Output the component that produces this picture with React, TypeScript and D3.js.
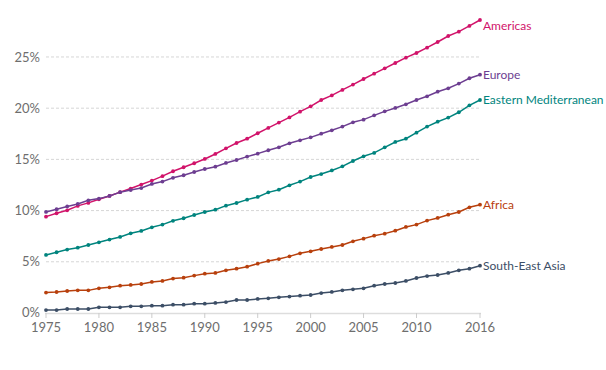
import React from "react";
import * as d3 from "d3";

const years: number[] = d3.range(1975, 2017);

const americas = [9.41, 9.74, 10.03, 10.46, 10.75, 11.1, 11.43, 11.8, 12.15, 12.54, 12.93, 13.36, 13.84, 14.23, 14.62, 15.04, 15.53, 16.08, 16.6, 17.02, 17.55, 18.07, 18.59, 19.1, 19.66, 20.18, 20.8, 21.25, 21.78, 22.3, 22.85, 23.37, 23.89, 24.41, 24.93, 25.39, 25.91, 26.46, 27.05, 27.47, 28.03, 28.61];
const europe = [9.87, 10.13, 10.4, 10.65, 11.0, 11.17, 11.43, 11.8, 12.0, 12.2, 12.6, 12.83, 13.2, 13.45, 13.77, 14.06, 14.29, 14.65, 14.94, 15.27, 15.56, 15.89, 16.18, 16.57, 16.86, 17.15, 17.51, 17.84, 18.2, 18.62, 18.88, 19.3, 19.69, 20.02, 20.38, 20.8, 21.16, 21.61, 21.94, 22.4, 22.92, 23.27];
const easternMed = [5.67, 5.93, 6.19, 6.38, 6.64, 6.9, 7.17, 7.43, 7.78, 8.01, 8.37, 8.63, 9.0, 9.25, 9.57, 9.86, 10.09, 10.48, 10.74, 11.07, 11.33, 11.78, 12.04, 12.47, 12.83, 13.28, 13.57, 13.92, 14.32, 14.84, 15.3, 15.63, 16.18, 16.7, 17.02, 17.61, 18.2, 18.68, 19.08, 19.6, 20.28, 20.8];
const africa = [1.99, 2.05, 2.15, 2.21, 2.21, 2.41, 2.51, 2.67, 2.74, 2.83, 3.03, 3.13, 3.36, 3.45, 3.65, 3.84, 3.91, 4.17, 4.33, 4.52, 4.82, 5.08, 5.27, 5.53, 5.83, 6.02, 6.25, 6.45, 6.64, 7.0, 7.26, 7.55, 7.75, 8.04, 8.4, 8.63, 9.02, 9.28, 9.6, 9.86, 10.32, 10.58];
const seAsia = [0.29, 0.29, 0.39, 0.39, 0.39, 0.55, 0.55, 0.55, 0.65, 0.65, 0.72, 0.72, 0.81, 0.81, 0.91, 0.91, 0.98, 1.07, 1.27, 1.27, 1.37, 1.43, 1.53, 1.6, 1.69, 1.76, 1.95, 2.06, 2.21, 2.31, 2.41, 2.67, 2.83, 2.93, 3.13, 3.42, 3.61, 3.71, 3.91, 4.17, 4.33, 4.62];

const seriesNames = ["Americas", "Europe", "Eastern Mediterranean", "Africa", "South-East Asia"];
const seriesValues = [americas, europe, easternMed, africa, seAsia];
const seriesColors = ["#d1136a", "#6d3e91", "#00847e", "#b8400d", "#3c4e66"];

const xTicks = [1975, 1980, 1985, 1990, 1995, 2000, 2005, 2010, 2016];
const yTicks = [0, 5, 10, 15, 20, 25];

const W = 606;
const H = 370;
const left = 46;
const right = 480;
const top = 20;
const bottom = 313;

export default function App() {
  const x = d3.scaleLinear().domain([years[0], years[years.length - 1]]).range([left, right]);
  const yMax = d3.max(seriesValues.flat()) as number;
  const y = d3.scaleLinear().domain([0, yMax]).range([bottom, top]);
  const line = d3
    .line<number>()
    .x((_, i) => x(years[i]))
    .y((d) => y(d));
  const font = "Lato, 'Open Sans', sans-serif";

  return (
    <svg
      width={W}
      height={H}
      style={{ position: "absolute", left: 0, top: 0, background: "#fff" }}
      fontFamily={font}
    >
      {yTicks.map((t) => (
        <g key={t}>
          {t > 0 && (
            <line
              x1={left}
              x2={right}
              y1={y(t)}
              y2={y(t)}
              stroke="#d6d6d6"
              strokeWidth={1}
              strokeDasharray="3,2"
            />
          )}
          <text x={40} y={y(t) - (t === 0 ? 1 : 0)} dy="0.35em" textAnchor="end" fontSize={13} fill="#6e6e6e">
            {t}%
          </text>
        </g>
      ))}
      <line x1={left - 1} x2={right + 1} y1={bottom + 0.5} y2={bottom + 0.5} stroke="#ddd" strokeWidth={1.5} />
      {xTicks.map((t) => (
        <g key={t}>
          <line x1={x(t)} x2={x(t)} y1={bottom} y2={bottom + 5} stroke="#ccc" strokeWidth={1} />
          <text x={x(t)} y={bottom + 14} dy="0.35em" textAnchor="middle" fontSize={13} fill="#6e6e6e">
            {t}
          </text>
        </g>
      ))}
      {seriesValues.map((vals, si) => (
        <g key={seriesNames[si]}>
          <path d={line(vals) || ""} fill="none" stroke={seriesColors[si]} strokeWidth={1.5} />
          {vals.map((v, i) => (
            <circle key={i} cx={x(years[i])} cy={y(v)} r={1.9} fill={seriesColors[si]} />
          ))}
          <text
            x={right + 3}
            y={Math.max(y(vals[vals.length - 1]), top + 6)}
            dy="0.35em"
            fontSize={12}
            fill={seriesColors[si]}
          >
            {seriesNames[si]}
          </text>
        </g>
      ))}
    </svg>
  );
}
